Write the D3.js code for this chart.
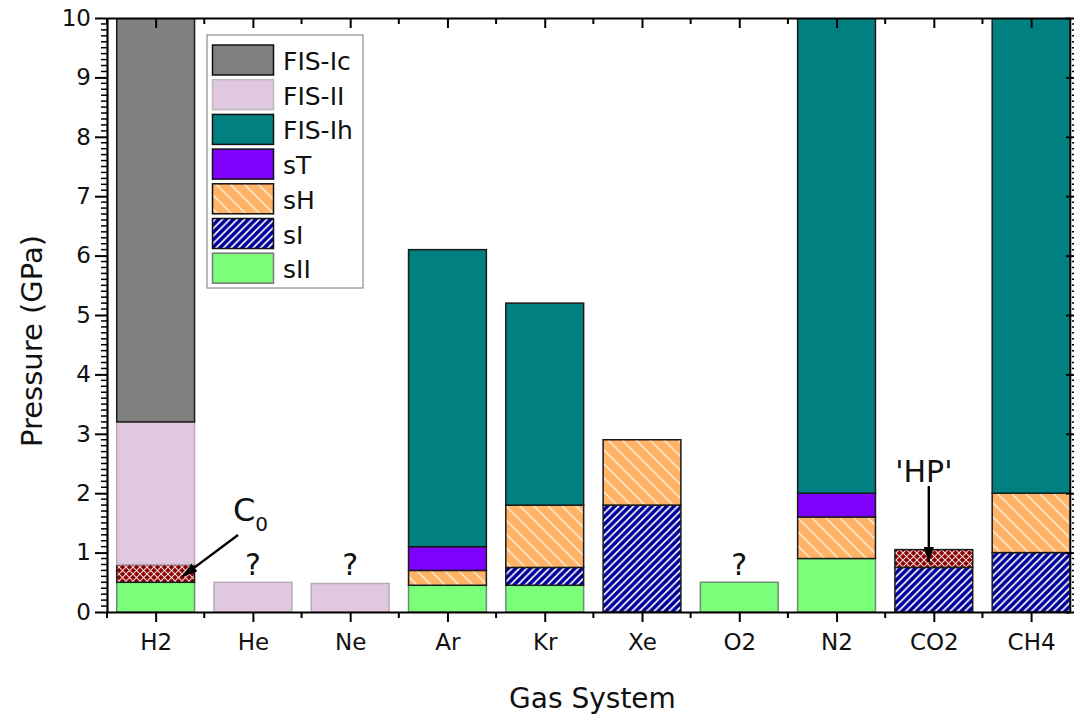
<!DOCTYPE html>
<html>
<head>
<meta charset="utf-8">
<script src="https://cdn.jsdelivr.net/npm/d3@7"></script>
<style>
  body { margin: 0; background: #fff; }
  svg { display: block; font-family: "DejaVu Sans", Verdana, sans-serif; }
</style>
</head>
<body>
<svg id="chart" width="1074" height="720"></svg>
<script>
// ---------------- data ----------------
const categories = ["H2", "He", "Ne", "Ar", "Kr", "Xe", "O2", "N2", "CO2", "CH4"];
// segment heights (GPa), stacked bottom -> top in seriesKeys order
const sII   = [0.5, 0,   0,    0.45, 0.45, 0,   0.5, 0.9, 0,    0];
const sI    = [0,   0,   0,    0,    0.3,  1.8, 0,   0,   0.75, 1.0];
const hpC0  = [0.3, 0,   0,    0,    0,    0,   0,   0,   0.3,  0];
const sH    = [0,   0,   0,    0.25, 1.05, 1.1, 0,   0.7, 0,    1.0];
const sT    = [0,   0,   0,    0.4,  0,    0,   0,   0.4, 0,    0];
const fisII = [2.4, 0.5, 0.48, 0,    0,    0,   0,   0,   0,    0];
const fisIh = [0,   0,   0,    5.0,  3.4,  0,   0,   8.0, 0,    8.0];
const fisIc = [6.8, 0,   0,    0,    0,    0,   0,   0,   0,    0];

const seriesKeys = ["sII", "sI", "hp", "sH", "sT", "FIS-II", "FIS-Ih", "FIS-Ic"];
const seriesValues = { "sII": sII, "sI": sI, "hp": hpC0, "sH": sH, "sT": sT,
                       "FIS-II": fisII, "FIS-Ih": fisIh, "FIS-Ic": fisIc };
const legendItems = ["FIS-Ic", "FIS-II", "FIS-Ih", "sT", "sH", "sI", "sII"];
const yTickValues = [0, 1, 2, 3, 4, 5, 6, 7, 8, 9, 10];

// annotations
const questionMarks = [{ cat: "He", v: 0.62 }, { cat: "Ne", v: 0.62 }, { cat: "O2", v: 0.62 }];

// ---------------- styles ----------------
const fills = {
  "sII": "#7bff7b", "sI": "url(#patSI)", "hp": "url(#patHP)", "sH": "url(#patSH)",
  "sT": "#8000ff", "FIS-II": "#e0c8e0", "FIS-Ih": "#008080", "FIS-Ic": "#808080"
};
const strokes = {
  "sII": "#6a8f6a", "sI": "#1a1a1a", "hp": "#1a1a1a", "sH": "#1a1a1a",
  "sT": "#1a1a1a", "FIS-II": "#b9a9b9", "FIS-Ih": "#1a1a1a", "FIS-Ic": "#1a1a1a"
};

const svg = d3.select("#chart");
const pLeft = 107, pRight = 1070, pTop = 18, pBottom = 612;

// patterns
const defs = svg.append("defs");
const pSI = defs.append("pattern").attr("id", "patSI").attr("patternUnits", "userSpaceOnUse")
  .attr("width", 7.4).attr("height", 7.4);
pSI.append("rect").attr("width", 7.4).attr("height", 7.4).attr("fill", "#000099");
pSI.append("path").attr("d", "M-1,8.4 L8.4,-1 M-1,1 L1,-1 M6.4,8.4 L8.4,6.4")
  .attr("stroke", "#ffffff").attr("stroke-width", 1.7);

const pSH = defs.append("pattern").attr("id", "patSH").attr("patternUnits", "userSpaceOnUse")
  .attr("width", 14).attr("height", 14);
pSH.append("rect").attr("width", 14).attr("height", 14).attr("fill", "#ffb366");
pSH.append("path").attr("d", "M-1,-1 L15,15 M-1,13 L1,15 M13,-1 L15,1")
  .attr("stroke", "#ffe2c2").attr("stroke-width", 1.8);

const pHP = defs.append("pattern").attr("id", "patHP").attr("patternUnits", "userSpaceOnUse")
  .attr("width", 7).attr("height", 7);
pHP.append("rect").attr("width", 7).attr("height", 7).attr("fill", "#8b0000");
pHP.append("path").attr("d", "M0,0 L7,7 M7,0 L0,7")
  .attr("stroke", "#f2dada").attr("stroke-width", 1.1);

defs.append("marker").attr("id", "arrow").attr("viewBox", "0 0 16 10")
  .attr("refX", 15).attr("refY", 5).attr("markerWidth", 16).attr("markerHeight", 10)
  .attr("markerUnits", "userSpaceOnUse").attr("orient", "auto")
  .append("path").attr("d", "M0,0 L16,5 L0,10 z").attr("fill", "#000");

defs.append("clipPath").attr("id", "plotClip").append("rect")
  .attr("x", pLeft).attr("y", pTop).attr("width", pRight - pLeft).attr("height", pBottom - pTop);

// scales
const x = d3.scaleLinear().domain([-0.5, 9.4]).range([pLeft, pRight]);
const y = d3.scaleLinear().domain([0, 10]).range([pBottom, pTop]);
const barW = x(0.8) - x(0);

// stacked data
const rows = categories.map((c, i) => {
  const r = { cat: c, i: i };
  seriesKeys.forEach(k => r[k] = seriesValues[k][i]);
  return r;
});
const stacked = d3.stack().keys(seriesKeys)(rows);

const gBars = svg.append("g").attr("clip-path", "url(#plotClip)");
stacked.forEach(layer => {
  gBars.selectAll(null).data(layer.filter(d => d[1] - d[0] > 0)).enter().append("rect")
    .attr("x", d => x(d.data.i) - barW / 2)
    .attr("y", d => y(d[1]))
    .attr("width", barW)
    .attr("height", d => y(d[0]) - y(d[1]))
    .attr("fill", fills[layer.key])
    .attr("stroke", strokes[layer.key])
    .attr("stroke-width", 1.5);
});

// ---------------- axes ----------------
const catIdx = categories.map((c, i) => i);
const minorX = d3.range(-0.5, 9.5, 1);
const minorY = d3.range(0, 10.001, 0.1).map(v => Math.round(v * 10) / 10).filter(v => Math.abs(v - Math.round(v)) > 1e-6);

// bottom axis
const gB = svg.append("g").attr("transform", `translate(0,${pBottom})`);
gB.call(d3.axisBottom(x).tickValues(catIdx).tickFormat(i => categories[i]).tickSize(10).tickSizeOuter(0))
  .call(g => g.select(".domain").attr("stroke-width", 2.2))
  .call(g => g.selectAll(".tick line").attr("stroke-width", 2))
  .call(g => g.selectAll(".tick text").attr("font-size", 23).attr("font-family", "DejaVu Sans").attr("fill", "#111").attr("dy", "1.1em"));
gB.selectAll(".mt").data(minorX).enter().append("line")
  .attr("x1", d => x(d)).attr("x2", d => x(d)).attr("y1", 0).attr("y2", 6)
  .attr("stroke", "#000").attr("stroke-width", 2);

// top axis
const gT = svg.append("g").attr("transform", `translate(0,${pTop})`);
gT.call(d3.axisBottom(x).tickValues(catIdx).tickFormat("").tickSize(10).tickSizeOuter(0))
  .call(g => g.select(".domain").attr("stroke-width", 2.2))
  .call(g => g.selectAll(".tick line").attr("stroke-width", 2));
gT.selectAll(".mt").data(minorX).enter().append("line")
  .attr("x1", d => x(d)).attr("x2", d => x(d)).attr("y1", 0).attr("y2", 6)
  .attr("stroke", "#000").attr("stroke-width", 2);

// left axis
const gL = svg.append("g").attr("transform", `translate(${pLeft},0)`);
gL.call(d3.axisLeft(y).tickValues(yTickValues).tickFormat(d3.format("d")).tickSize(12).tickPadding(4).tickSizeOuter(0))
  .call(g => g.select(".domain").attr("stroke-width", 2.2))
  .call(g => g.selectAll(".tick line").attr("stroke-width", 2))
  .call(g => g.selectAll(".tick text").attr("font-size", 23).attr("font-family", "DejaVu Sans").attr("fill", "#111"));
gL.selectAll(".mt").data(minorY).enter().append("line")
  .attr("x1", -6).attr("x2", 0).attr("y1", d => y(d)).attr("y2", d => y(d))
  .attr("stroke", "#000").attr("stroke-width", 1.5);

// right axis
const gR = svg.append("g").attr("transform", `translate(${pRight},0)`);
gR.call(d3.axisRight(y).tickValues(yTickValues).tickFormat("").tickSize(4).tickSizeOuter(0))
  .call(g => g.select(".domain").attr("stroke-width", 1.6))
  .call(g => g.selectAll(".tick line").attr("stroke-width", 2).attr("x1", -4));
gR.selectAll(".mt").data(minorY).enter().append("line")
  .attr("x1", 2).attr("x2", 4).attr("y1", d => y(d)).attr("y2", d => y(d))
  .attr("stroke", "#000").attr("stroke-width", 1.5);

// axis titles
svg.append("text").attr("x", (pLeft + pRight) / 2 + 4).attr("y", 708).attr("text-anchor", "middle")
  .attr("font-size", 28).attr("fill", "#111").text("Gas System");
svg.append("text").attr("transform", `translate(42,${(pTop + pBottom) / 2 + 26}) rotate(-90)`)
  .attr("text-anchor", "middle").attr("font-size", 29).attr("fill", "#111").text("Pressure (GPa)");

// ---------------- legend ----------------
const lg = svg.append("g").attr("transform", "translate(207,35)");
lg.append("rect").attr("width", 156).attr("height", 253).attr("fill", "#fff")
  .attr("stroke", "#777").attr("stroke-width", 1);
const legendStroke = { "FIS-Ic": "#111", "FIS-II": "#bbb", "FIS-Ih": "#111", "sT": "#111",
  "sH": "#111", "sI": "#111", "sII": "#777" };
legendItems.forEach((k, j) => {
  const gy = 10 + j * 34.7;
  lg.append("rect").attr("x", 5.5).attr("y", gy).attr("width", 61).attr("height", 30)
    .attr("fill", fills[k]).attr("stroke", legendStroke[k]).attr("stroke-width", 1.5);
  lg.append("text").attr("x", 76).attr("y", gy + 25).attr("font-size", 25).attr("fill", "#111").text(k);
});

// ---------------- annotations ----------------
const c0 = svg.append("text").attr("x", 233).attr("y", 521).attr("font-size", 32).attr("fill", "#111");
c0.append("tspan").text("C");
c0.append("tspan").attr("font-size", 20).attr("dy", 10).text("0");
svg.append("line").attr("x1", 238).attr("y1", 535).attr("x2", x(0) + barW / 2 - 12).attr("y2", y(0.6))
  .attr("stroke", "#000").attr("stroke-width", 2.4).attr("marker-end", "url(#arrow)");

svg.selectAll(".q").data(questionMarks).enter().append("text")
  .attr("x", d => x(categories.indexOf(d.cat))).attr("y", d => y(d.v))
  .attr("text-anchor", "middle").attr("font-size", 30).attr("fill", "#111").text("?");

const co2 = categories.indexOf("CO2");
svg.append("text").attr("x", x(co2) - 10).attr("y", 482).attr("text-anchor", "middle")
  .attr("font-size", 30).attr("fill", "#111").text("'HP'");
svg.append("line").attr("x1", x(co2) - 5).attr("y1", 486).attr("x2", x(co2) - 5).attr("y2", y(0.84))
  .attr("stroke", "#000").attr("stroke-width", 2.4).attr("marker-end", "url(#arrow)");
</script>
</body>
</html>
